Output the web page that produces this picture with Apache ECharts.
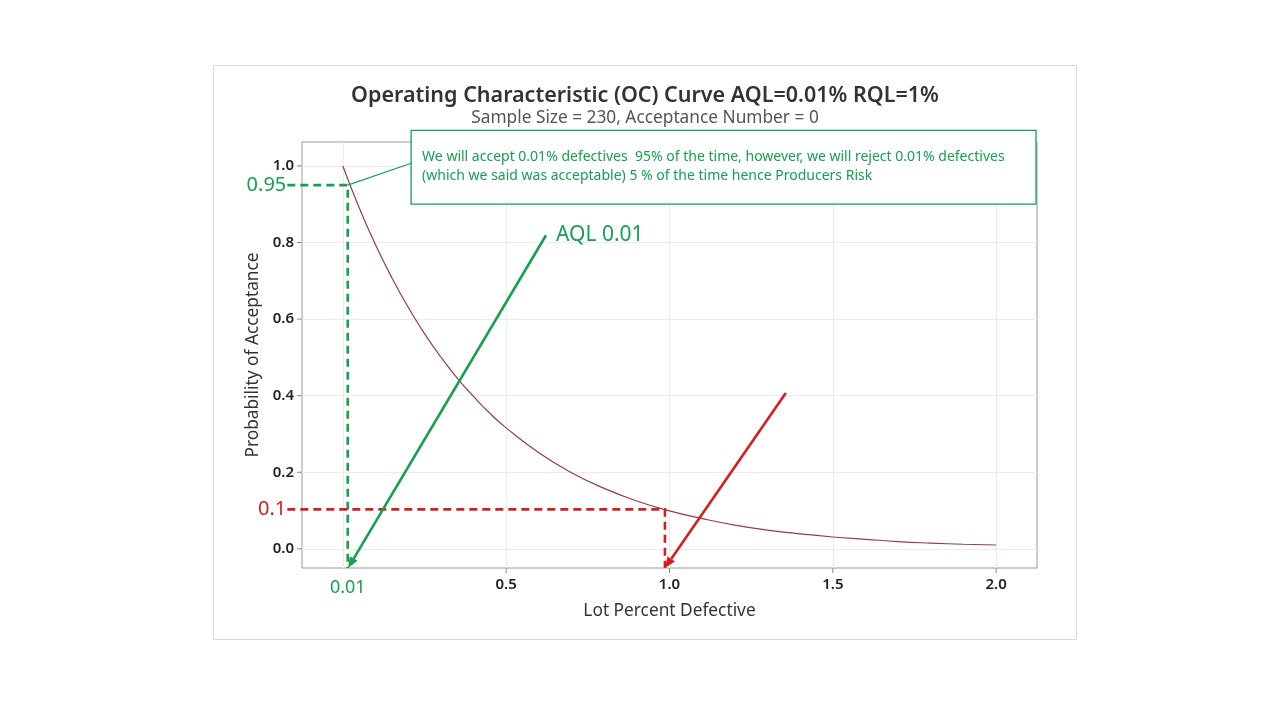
<!DOCTYPE html>
<html>
<head>
<meta charset="utf-8">
<title>OC Curve</title>
<script src="https://cdn.jsdelivr.net/npm/echarts@6/dist/echarts.min.js"></script>
<style>
    html, body { margin: 0; padding: 0; background: #fff; }
    #chart { width: 1280px; height: 720px; }
</style>
</head>
<body>
<div id="chart"></div>
<script>
// OC curve
var pctDefective = [0, 0.05, 0.1, 0.15, 0.2, 0.25, 0.3, 0.35, 0.4, 0.45, 0.5, 0.6, 0.7, 0.8, 0.9,
                    1.0, 1.1, 1.2, 1.3, 1.4, 1.5, 1.6, 1.7, 1.8, 1.9, 2.0];
var probAccept = [1.0, 0.891, 0.794, 0.708, 0.631, 0.562, 0.501, 0.446, 0.398, 0.354, 0.316, 0.251, 0.199, 0.158, 0.125,
                  0.099, 0.079, 0.062, 0.049, 0.039, 0.031, 0.025, 0.019, 0.015, 0.012, 0.010];
var xTickValues = [0.5, 1.0, 1.5, 2.0];
var yTickValues = [0.0, 0.2, 0.4, 0.6, 0.8, 1.0];
var gridXValues = [0, 0.5, 1.0, 1.5, 2.0];

// annotations (data coordinates)
var aqlGuide = [[-0.17, 0.95], [0.015, 0.95], [0.015, -0.05]];
var rqlGuide = [[-0.17, 0.103], [0.986, 0.103], [0.986, -0.05]];
var aqlArrow = [[0.622, 0.819], [0.016, -0.05]];
var rqlArrow = [[1.356, 0.407], [0.986, -0.05]];
var calloutBox = [[0.209, 1.093], [2.122, 0.9]];
var calloutPointer = [[0.015, 0.95], [0.209, 1.007]];
var calloutLines = [
    'We will accept 0.01% defectives  95% of the time, however, we will reject 0.01% defectives',
    '(which we said was acceptable) 5 % of the time hence Producers Risk'
];

var FONT = 'Noto Sans';
var green = '#15a150',
    red = '#d71d1f',
    curveColor = '#94403f';

var chart = echarts.init(document.getElementById('chart'));

function isTick(v, list) {
    for (var i = 0; i < list.length; i++) {
        if (Math.abs(v - list[i]) < 1e-6) return true;
    }
    return false;
}

function renderNotes(params, api) {
    var c = function (d) { return api.coord(d); };
    var kids = [];

    // axis ticks
    yTickValues.forEach(function (v) {
        var p = c([-0.125, v]);
        kids.push({type: 'line', shape: {x1: p[0] - 5, y1: p[1], x2: p[0], y2: p[1]},
            style: {stroke: '#888', lineWidth: 1}});
    });
    xTickValues.forEach(function (v) {
        var p = c([v, -0.05]);
        kids.push({type: 'line', shape: {x1: p[0], y1: p[1], x2: p[0], y2: p[1] + 5},
            style: {stroke: '#888', lineWidth: 1}});
    });

    function guide(pts, color) {
        kids.push({type: 'polyline', shape: {points: pts.map(c)},
            style: {stroke: color, lineWidth: 2.6, lineDash: [8, 5], fill: 'none'}});
    }
    function arrow(pts, color) {
        var a = c(pts[0]), b = c(pts[1]);
        var dx = b[0] - a[0], dy = b[1] - a[1];
        var len = Math.sqrt(dx * dx + dy * dy), ux = dx / len, uy = dy / len;
        var hl = 11, hw = 4.5;
        var bx = b[0] - ux * hl, by = b[1] - uy * hl;
        kids.push({type: 'line', shape: {x1: a[0], y1: a[1], x2: bx, y2: by},
            style: {stroke: color, lineWidth: 2.6}});
        kids.push({type: 'polygon', shape: {points: [b, [bx - uy * hw, by + ux * hw], [bx + uy * hw, by - ux * hw]]},
            style: {fill: color}});
    }
    function label(pos, text, color, size, align, dx, dy) {
        var p = c(pos);
        kids.push({type: 'text', x: p[0] + (dx || 0), y: p[1] + (dy || 0),
            style: {text: text, fill: color, fontSize: size, fontFamily: FONT,
                align: align, verticalAlign: 'middle'}});
    }

    guide(aqlGuide, green);
    guide(rqlGuide, red);
    arrow(aqlArrow, green);
    arrow(rqlArrow, red);

    label(aqlGuide[0], '0.95', green, 20, 'right', -1, 0);
    label(rqlGuide[0], '0.1', red, 20, 'right', -1, 0);
    label(aqlArrow[0], 'AQL 0.01', green, 21, 'left', 10, 0);
    label([aqlGuide[2][0], -0.05], '0.01', green, 18, 'center', 0, 20);

    // callout
    var p0 = c(calloutPointer[0]), p1 = c(calloutPointer[1]);
    kids.push({type: 'line', shape: {x1: p0[0], y1: p0[1], x2: p1[0], y2: p1[1]},
        style: {stroke: green, lineWidth: 1.2}});
    var b0 = c(calloutBox[0]), b1 = c(calloutBox[1]);
    kids.push({type: 'rect', shape: {x: b0[0], y: b0[1], width: b1[0] - b0[0], height: b1[1] - b0[1]},
        style: {fill: '#fff', stroke: green, lineWidth: 1.3}});
    kids.push({type: 'text', x: b0[0] + 11, y: b0[1] + 17,
        style: {text: calloutLines.join('\n'), fill: green, fontSize: 14, fontFamily: FONT,
            lineHeight: 19, align: 'left', verticalAlign: 'top'}});

    return {type: 'group', children: kids};
}

var option = {
    animation: false,
    backgroundColor: '#fff',
    textStyle: {fontFamily: FONT},
    graphic: [{
        type: 'rect', z: -10, silent: true,
        shape: {x: 213.5, y: 65.5, width: 863, height: 574},
        style: {fill: '#fff', stroke: '#dcdcdc', lineWidth: 1}
    }],
    title: {
        text: 'Operating Characteristic (OC) Curve AQL=0.01% RQL=1%',
        subtext: 'Sample Size = 230, Acceptance Number = 0',
        left: 640,
        top: 80,
        textAlign: 'center',
        itemGap: 3,
        textStyle: {fontFamily: FONT, fontSize: 21.5, fontWeight: 600, color: '#333'},
        subtextStyle: {fontFamily: FONT, fontSize: 17.3, color: '#555'}
    },
    grid: {
        left: 302, right: 243, top: 142, bottom: 152,
        show: true, borderColor: '#999', borderWidth: 1, backgroundColor: 'transparent'
    },
    xAxis: {
        type: 'value',
        min: -0.125, max: 2.125, interval: 0.125,
        name: 'Lot Percent Defective',
        nameLocation: 'middle', nameGap: 35,
        nameTextStyle: {fontFamily: FONT, fontSize: 17.3, color: '#333'},
        axisLine: {show: false},
        axisTick: {show: false},
        splitLine: {show: false},
        axisLabel: {
            margin: 9, fontSize: 15, fontWeight: 600, color: '#222', fontFamily: FONT,
            formatter: function (v) { return isTick(v, xTickValues) ? v.toFixed(1) : ''; }
        }
    },
    yAxis: {
        type: 'value',
        min: -0.05, max: 1.0625, interval: 0.05,
        name: 'Probability of Acceptance',
        nameLocation: 'middle', nameGap: 36, nameRotate: 90,
        nameTextStyle: {fontFamily: FONT, fontSize: 17.3, color: '#333'},
        axisLine: {show: false},
        axisTick: {show: false},
        splitLine: {show: false},
        axisLabel: {
            margin: 8, fontSize: 15, fontWeight: 600, color: '#222', fontFamily: FONT,
            formatter: function (v) { return isTick(v, yTickValues) ? v.toFixed(1) : ''; }
        }
    },
    series: [
        {
            // faint grid lines, kept under the curve
            type: 'line',
            data: [],
            z: 1,
            markLine: {
                silent: true,
                z: 1,
                symbol: 'none',
                label: {show: false},
                lineStyle: {color: '#ececec', width: 1, type: 'solid'},
                data: gridXValues.map(function (v) { return {xAxis: v}; })
                    .concat(yTickValues.map(function (v) { return {yAxis: v}; }))
            }
        },
        {
            type: 'line',
            data: pctDefective.map(function (x, i) { return [x, probAccept[i]]; }),
            smooth: true,
            showSymbol: false,
            lineStyle: {color: curveColor, width: 1.2},
            z: 3
        },
        {
            type: 'custom',
            silent: true,
            clip: false,
            z: 5,
            data: [[0, 0]],
            renderItem: renderNotes
        }
    ]
};

chart.setOption(option);
</script>
</body>
</html>
